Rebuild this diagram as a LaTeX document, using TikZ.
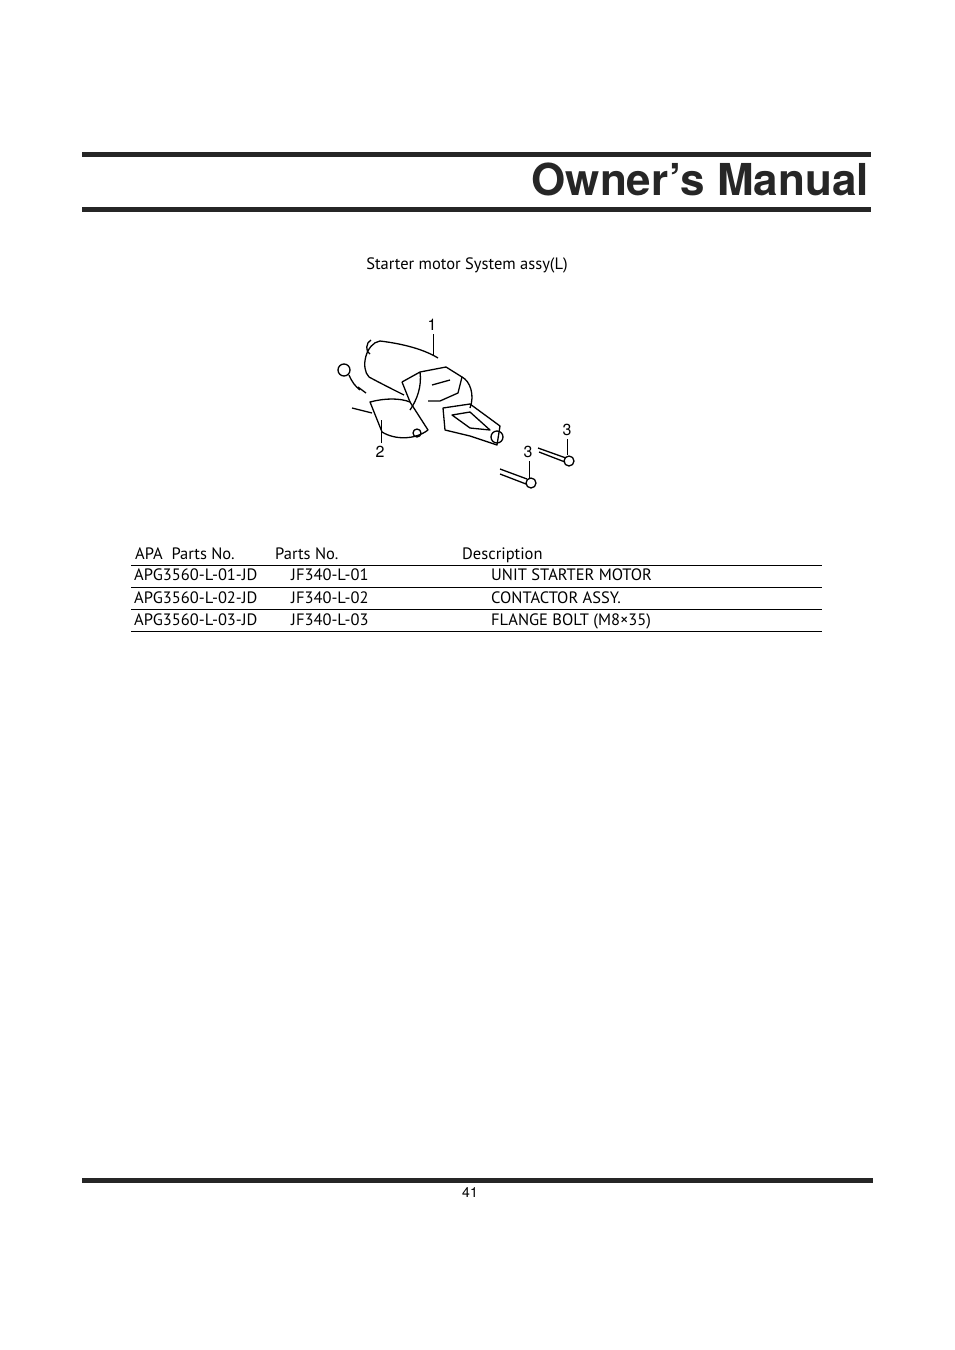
\documentclass[tikz,border=0pt]{standalone}
\usepackage{fontspec}
\setmainfont{PT Sans}
\newfontfamily\titlefont{TeX Gyre Heros}
\begin{document}
\begin{tikzpicture}[x=1pt,y=-1pt,
  bar/.style={line width=5pt,color=black!85},
  rule/.style={line width=0.8pt},
  cell/.style={anchor=base west,inner sep=0,font=\fontsize{16.5}{18}\selectfont},
  part/.style={line width=1.3pt,line join=round},
  lab/.style={font=\titlefont\fontsize{16}{18}\selectfont,inner sep=0}]
\useasboundingbox (0,0) rectangle (954,1350);
\draw[bar] (82,154) -- (871,154);
\node[anchor=base east,inner sep=0,font=\titlefont\bfseries\fontsize{44}{48}\selectfont,color=black!85] (title) at (869,195) {Owner’s Manual};
\draw[bar] (82,209) -- (871,209);
\node[anchor=base,inner sep=0,font=\fontsize{16.5}{18}\selectfont] (cap) at (467,269) {Starter motor System assy(L)};
% drawing
\begin{scope}[part]
 % motor cylinder
 \draw (380,341) .. controls (405,344) and (425,350) .. (438,358);
 \draw (369,377) .. controls (382,384) and (394,390) .. (404,395);
 \draw (380,341) .. controls (366,343) and (360,368) .. (369,377);
 \draw (371,340) .. controls (366,342) and (365,352) .. (370,354);
 % front housing
 \draw (402,382) -- (420,372) -- (446,367) -- (462,377) -- (458,393) -- (440,401) -- (428,401);
 \draw (420,372) .. controls (422,386) and (417,400) .. (410,410);
 \draw (462,377) .. controls (470,381) and (475,395) .. (470,408);
 \draw (432,385) -- (450,380);
 % nose
 \draw (443,408) -- (470,404) -- (500,426) -- (497,445) -- (470,436) -- (445,430) -- cycle;
 \draw (452,415) -- (470,412) -- (490,430) -- (470,428) -- cycle;
 \draw (497,437) circle (6);
 % solenoid
 \draw (370,402) .. controls (385,398) and (400,398) .. (410,402) -- (428,430) .. controls (415,440) and (395,440) .. (382,432) -- cycle;
 \draw (417,433) circle (4);
 \draw (410,402) -- (402,382);
 % cable
 \draw (344,370) circle (6);
 \draw (349,375) .. controls (352,382) and (355,386) .. (360,390);
 \draw (358,387) -- (366,393);
 \draw (352,408) -- (372,413);
 % bolts
 \draw (538,448) -- (566,458); \draw (539,452) -- (565,462);
 \draw (569,461) circle (5);
 \draw (500,469) -- (527,479); \draw (500,474) -- (526,484);
 \draw (531,483) circle (5);
\end{scope}
\node[lab] (n1) at (432,325) {1};
\draw[line width=1pt] (433,334) -- (433,356);
\node[lab] (n2) at (380,452) {2};
\draw[line width=1pt] (381,443) -- (381,420);
\node[lab] (n3a) at (567,430) {3};
\draw[line width=1pt] (567,439) -- (567,455);
\node[lab] (n3b) at (528,452) {3};
\draw[line width=1pt] (529,461) -- (529,478);
% table
\node[cell] (h1) at (135,559) {APA\ \ Parts No.};
\node[cell] (h2) at (275,559) {Parts No.};
\node[cell] (h3) at (462,559) {Description};
\foreach \y in {565,587,609,631} \draw[rule] (131,\y) -- (822,\y);
\node[cell] (a1) at (134,580) {APG3560-L-01-JD};
\node[cell] (b1) at (291,580) {JF340-L-01};
\node[cell] (c1) at (491,580) {UNIT STARTER MOTOR};
\node[cell] (a2) at (134,603) {APG3560-L-02-JD};
\node[cell] (b2) at (291,603) {JF340-L-02};
\node[cell] (c2) at (491,603) {CONTACTOR ASSY.};
\node[cell] (a3) at (134,625) {APG3560-L-03-JD};
\node[cell] (b3) at (291,625) {JF340-L-03};
\node[cell] (c3) at (491,625) {FLANGE BOLT (M8×35)};
\draw[bar] (82,1180) -- (873,1180);
\node[anchor=base,inner sep=0,font=\titlefont\fontsize{14}{16}\selectfont] (pg) at (470,1197) {41};
\end{tikzpicture}
\end{document}
